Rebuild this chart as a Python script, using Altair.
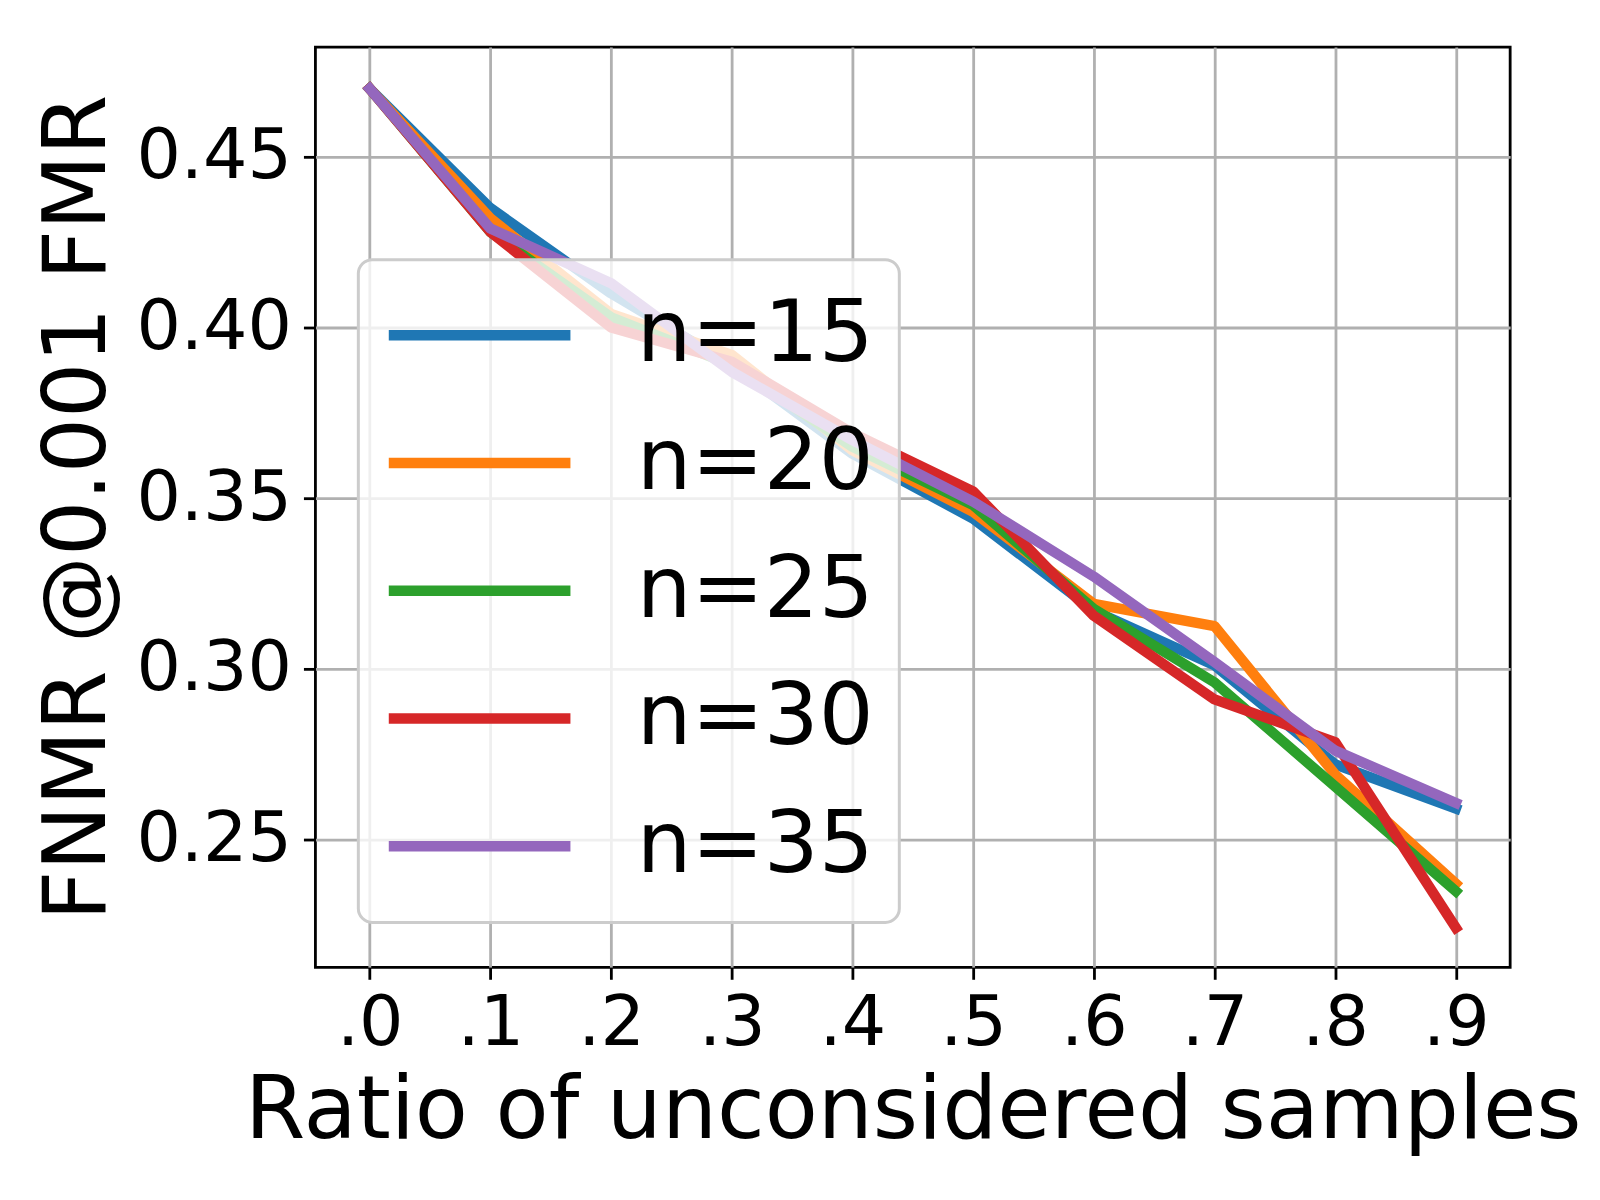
import altair as alt
import pandas as pd

ratios = [0.0, 0.1, 0.2, 0.3, 0.4, 0.5, 0.6, 0.7, 0.8, 0.9]
n15 = [0.470, 0.435, 0.410, 0.389, 0.363, 0.344, 0.317, 0.301, 0.272, 0.259]
n20 = [0.470, 0.432, 0.404, 0.392, 0.364, 0.346, 0.319, 0.3125, 0.269, 0.237]
n25 = [0.470, 0.428, 0.403, 0.389, 0.365, 0.348, 0.3175, 0.296, 0.2655, 0.2348]
n30 = [0.470, 0.428, 0.400, 0.390, 0.369, 0.352, 0.3155, 0.291, 0.2785, 0.2241]
n35 = [0.470, 0.429, 0.413, 0.387, 0.367, 0.349, 0.327, 0.302, 0.276, 0.2607]

series_names = ["n=15", "n=20", "n=25", "n=30", "n=35"]
series_values = [n15, n20, n25, n30, n35]
series_colors = ["#1f77b4", "#ff7f0e", "#2ca02c", "#d62728", "#9467bd"]

x_ticks = [0.0, 0.1, 0.2, 0.3, 0.4, 0.5, 0.6, 0.7, 0.8, 0.9]
y_ticks = [0.25, 0.30, 0.35, 0.40, 0.45]

rows = []
for name, vals in zip(series_names, series_values):
    for r, v in zip(ratios, vals):
        rows.append({"series": name, "ratio": r, "fnmr": v})
df = pd.DataFrame(rows)

FONT = "DejaVu Sans"
LW = 10.4

chart = alt.Chart(df).mark_line(
    strokeWidth=LW, strokeCap="square", strokeJoin="round"
).encode(
    x=alt.X(
        "ratio:Q",
        scale=alt.Scale(domain=[-0.045, 0.945], nice=False, zero=False),
        axis=alt.Axis(
            values=x_ticks,
            title="Ratio of unconsidered samples",
            labelExpr="replace(format(datum.value, '.1f'), '0.', '.')",
            labelFlush=False,
            labelOverlap=False,
            labelPadding=10,
            titlePadding=11,
        ),
    ),
    y=alt.Y(
        "fnmr:Q",
        scale=alt.Scale(domain=[0.2125, 0.4822], nice=False, zero=False),
        axis=alt.Axis(
            values=y_ticks,
            format=".2f",
            title="FNMR @0.001 FMR",
            labelOverlap=False,
            labelFlush=False,
            labelPadding=12,
            titlePadding=13,
        ),
    ),
    color=alt.Color(
        "series:N",
        scale=alt.Scale(domain=series_names, range=series_colors),
        legend=alt.Legend(
            title=None,
            orient="none",
            legendX=43,
            legendY=213,
            symbolType="stroke",
            symbolSize=33124,
            symbolStrokeWidth=LW,
            labelFont=FONT,
            labelFontSize=86.5,
            labelColor="black",
            labelLimit=0,
            labelOffset=61,
            clipHeight=101.5,
            rowPadding=26,
            padding=25,
            fillColor="rgba(255,255,255,0.8)",
            strokeColor="#cccccc",
            cornerRadius=14,
        ),
    ),
    order=alt.Order("ratio:Q"),
).properties(
    width=1197,
    height=922,
    autosize=alt.AutoSizeParams(type="none"),
    padding={"left": 308, "top": 38, "right": 82, "bottom": 220},
).configure_view(
    stroke="black", strokeWidth=2.8
).configure_axis(
    domain=False,
    grid=True,
    gridColor="#b0b0b0",
    gridWidth=2.8,
    tickColor="black",
    tickWidth=2.8,
    tickSize=12,
    labelFont=FONT,
    labelFontSize=70,
    labelColor="black",
    titleFont=FONT,
    titleFontSize=87,
    titleFontWeight="normal",
    titleColor="black",
).configure_legend(
    strokeWidth=3
)

chart.save("out.html", embed_options={"renderer": "svg", "actions": False})
